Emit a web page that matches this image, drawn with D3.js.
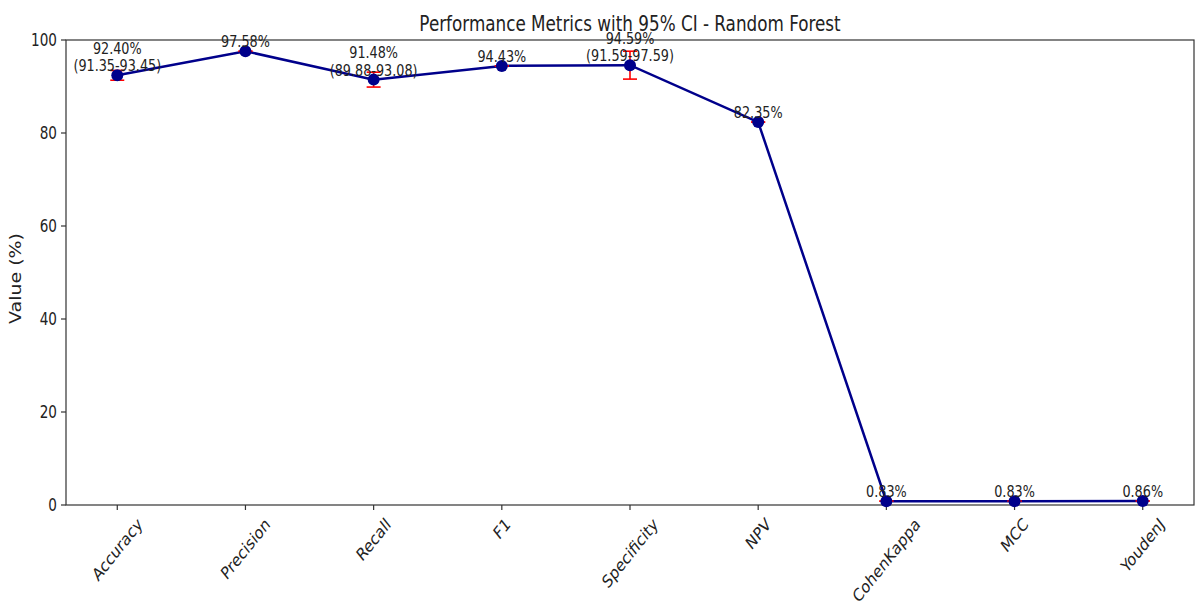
<!DOCTYPE html>
<html>
<head>
<meta charset="utf-8">
<script src="https://cdn.jsdelivr.net/npm/d3@7"></script>
<style>
  html, body { margin: 0; padding: 0; background: #fff; }
  svg { display: block; }
  text { font-family: "DejaVu Sans", sans-serif; fill: #222; }
</style>
</head>
<body>
<svg id="chart" width="1198" height="606"></svg>
<script>
// Metric names along the x axis
const metrics = ["Accuracy", "Precision", "Recall", "F1", "Specificity", "NPV", "CohenKappa", "MCC", "YoudenJ"];
// Point estimates (percent scale; the last three are plotted as raw coefficients)
const values = [92.40, 97.58, 91.48, 94.43, 94.59, 82.35, 0.83, 0.83, 0.86];
// 95% confidence bounds (null = no interval reported)
const ciLow  = [91.35, null, 89.88, null, 91.59, null, null, null, null];
const ciHigh = [93.45, null, 93.08, null, 97.59, null, null, null, null];
// Y axis ticks
const yTicks = [0, 20, 40, 60, 80, 100];

const title = "Performance Metrics with 95% CI - Random Forest";
const yLabel = "Value (%)";

const W = 1198, H = 606;
const margin = { left: 66, right: 4, top: 40, bottom: 101 };
const plotL = margin.left, plotR = W - margin.right;
const plotT = margin.top, plotB = H - margin.bottom;
const SX = 0.8; // horizontal text compression

const svg = d3.select("#chart");

const n = metrics.length;
const x = d3.scaleLinear()
  .domain([-0.4, n - 1 + 0.4])
  .range([plotL, plotR]);
const y = d3.scaleLinear().domain([0, 100]).range([plotB, plotT]);

const rows = metrics.map((m, i) => ({
  name: m, i, v: values[i],
  lo: ciLow[i] == null ? values[i] : ciLow[i],
  hi: ciHigh[i] == null ? values[i] : ciHigh[i],
  hasCI: ciLow[i] != null
}));

// Axes frame
svg.append("rect")
  .attr("x", plotL).attr("y", plotT)
  .attr("width", plotR - plotL).attr("height", plotB - plotT)
  .attr("fill", "none").attr("stroke", "#333").attr("stroke-width", 1.2);

// Y axis ticks and labels
const yAxis = svg.append("g");
yTicks.forEach(t => {
  const yy = y(t);
  yAxis.append("line")
    .attr("x1", plotL - 5).attr("x2", plotL)
    .attr("y1", yy).attr("y2", yy)
    .attr("stroke", "#333").attr("stroke-width", 1.2);
  yAxis.append("text")
    .attr("transform", `translate(${plotL - 9},${yy}) scale(${SX},1)`)
    .attr("text-anchor", "end")
    .attr("dy", "0.36em")
    .attr("font-size", 17)
    .text(t);
});

// X axis ticks and rotated labels
const xAxis = svg.append("g");
rows.forEach(r => {
  const xx = x(r.i);
  xAxis.append("line")
    .attr("x1", xx).attr("x2", xx)
    .attr("y1", plotB).attr("y2", plotB + 5)
    .attr("stroke", "#333").attr("stroke-width", 1.2);
  const g = xAxis.append("g")
    .attr("transform", `translate(${xx},${plotB + 10}) scale(${SX},1)`);
  const t = g.append("text")
    .attr("text-anchor", "middle")
    .attr("dominant-baseline", "central")
    .attr("font-size", 17.5)
    .text(r.name);
  const w = t.node().getComputedTextLength();
  const h = 17.5;
  const half = (w + h) / Math.SQRT2 / 2;
  t.attr("transform", `translate(0,${half}) rotate(-45)`);
});

// Y label
svg.append("text")
  .attr("transform", `translate(21,${(plotT + plotB) / 2 + 6}) scale(${SX},1) rotate(-90)`)
  .attr("text-anchor", "middle")
  .attr("font-size", 19)
  .text(yLabel);

// Title
svg.append("text")
  .attr("transform", `translate(${(plotL + plotR) / 2},31) scale(${SX},1)`)
  .attr("text-anchor", "middle")
  .attr("font-size", 21)
  .text(title);

// Connecting line
const line = d3.line().x(d => x(d.i)).y(d => y(d.v));
svg.append("path")
  .datum(rows)
  .attr("d", line)
  .attr("fill", "none")
  .attr("stroke", "#00008b")
  .attr("stroke-width", 2.5);

// Error bars with caps
const eb = svg.append("g").attr("stroke", "red").attr("stroke-width", 1.6);
rows.forEach(r => {
  const xx = x(r.i);
  eb.append("line").attr("x1", xx).attr("x2", xx).attr("y1", y(r.lo)).attr("y2", y(r.hi));
  [r.lo, r.hi].forEach(b => {
    eb.append("line").attr("x1", xx - 7).attr("x2", xx + 7).attr("y1", y(b)).attr("y2", y(b));
  });
});

// Markers
svg.append("g").selectAll("circle")
  .data(rows).join("circle")
  .attr("cx", d => x(d.i)).attr("cy", d => y(d.v))
  .attr("r", 6)
  .attr("fill", "#00008b");

// Value labels
const lab = svg.append("g");
rows.forEach(r => {
  const xx = x(r.i);
  const base = y(r.v) - 4;
  const g = lab.append("g").attr("transform", `translate(${xx},${base}) scale(${SX},1)`);
  const lines = [r.v.toFixed(2) + "%"];
  if (r.hasCI) lines.push(`(${ciLow[r.i].toFixed(2)}-${ciHigh[r.i].toFixed(2)})`);
  lines.forEach((s, k) => {
    g.append("text")
      .attr("text-anchor", "middle")
      .attr("y", -(lines.length - 1 - k) * 17.5)
      .attr("font-size", 16)
      .text(s);
  });
});
</script>
</body>
</html>
